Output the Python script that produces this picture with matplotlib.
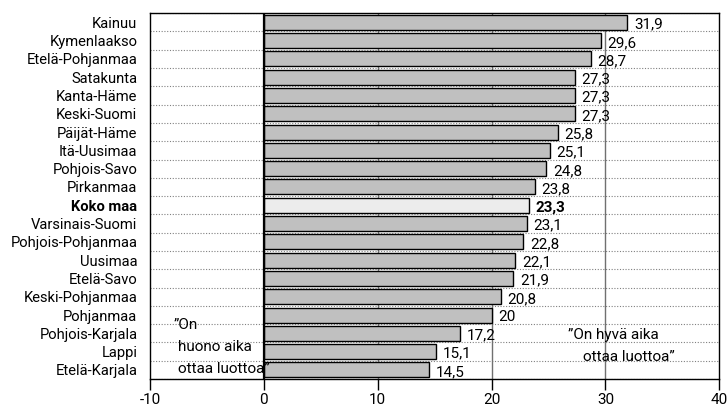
from matplotlib import pyplot

regions = [
    "Kainuu", "Kymenlaakso", "Etelä-Pohjanmaa", "Satakunta", "Kanta-Häme",
    "Keski-Suomi", "Päijät-Häme", "Itä-Uusimaa", "Pohjois-Savo", "Pirkanmaa",
    "Koko maa", "Varsinais-Suomi", "Pohjois-Pohjanmaa", "Uusimaa", "Etelä-Savo",
    "Keski-Pohjanmaa", "Pohjanmaa", "Pohjois-Karjala", "Lappi", "Etelä-Karjala",
]
values = [
    31.9, 29.6, 28.7, 27.3, 27.3,
    27.3, 25.8, 25.1, 24.8, 23.8,
    23.3, 23.1, 22.8, 22.1, 21.9,
    20.8, 20, 17.2, 15.1, 14.5,
]
highlight = "Koko maa"
xticks = [-10, 0, 10, 20, 30, 40]

pyplot.rcParams["font.family"] = ["Roboto", "DejaVu Sans"]

fig = pyplot.figure(figsize=(7.28, 4.12), dpi=100)
ax = fig.add_axes([0.206, 0.080, 0.782, 0.888])

n = len(regions)
ypos = list(range(n))
colors = ["#ececec" if r == highlight else "#c0c0c0" for r in regions]
ax.barh(
    ypos,
    values,
    height=0.82,
    color=colors,
    edgecolor="#000000",
    linewidth=1.0,
    zorder=3,
)

# dotted separators between categories
for k in range(n + 1):
    ax.axhline(k - 0.5, color="#808080", ls=(0, (1, 1.5)), lw=0.8, zorder=1)

for x in [10, 20, 30]:
    ax.axvline(x, color="#707070", lw=1.0, zorder=2)
ax.axvline(0, color="#000000", lw=1.6, zorder=4)

for y, v, r in zip(ypos, values, regions):
    label = f"{v:g}".replace(".", ",")
    ax.text(
        v + 0.6, y + 0.12, label,
        ha="left", va="center", fontsize=11,
        fontweight="bold" if r == highlight else "normal",
        zorder=5,
    )

ax.set_ylim(n - 0.5, -0.5)
ax.set_xlim(-10, 40)
ax.set_yticks(ypos)
ax.set_yticklabels(regions, fontsize=10.6)
for lbl in ax.get_yticklabels():
    if lbl.get_text() == highlight:
        lbl.set_fontweight("bold")
ax.tick_params(axis="y", length=0, pad=9)
ax.set_xticks(xticks)
ax.set_xticklabels([str(t) for t in xticks], fontsize=11)
ax.tick_params(axis="x", length=8, width=1.0, color="#000000", pad=2)

for s in ax.spines.values():
    s.set_color("#000000")
    s.set_linewidth(1.0)

# annotations
left_lines = [("”On", -7.9, 16.55), ("huono aika", -7.55, 17.75), ("ottaa luottoa”", -7.55, 18.95)]
for txt, x, y in left_lines:
    ax.text(x, y, txt, ha="left", va="center", fontsize=11, zorder=6)
right_lines = [("”On hyvä aika", 26.7, 17.1), ("ottaa luottoa”", 28.0, 18.3)]
for txt, x, y in right_lines:
    ax.text(x, y, txt, ha="left", va="center", fontsize=11, zorder=6)

pyplot.savefig("out.png", dpi=100)
